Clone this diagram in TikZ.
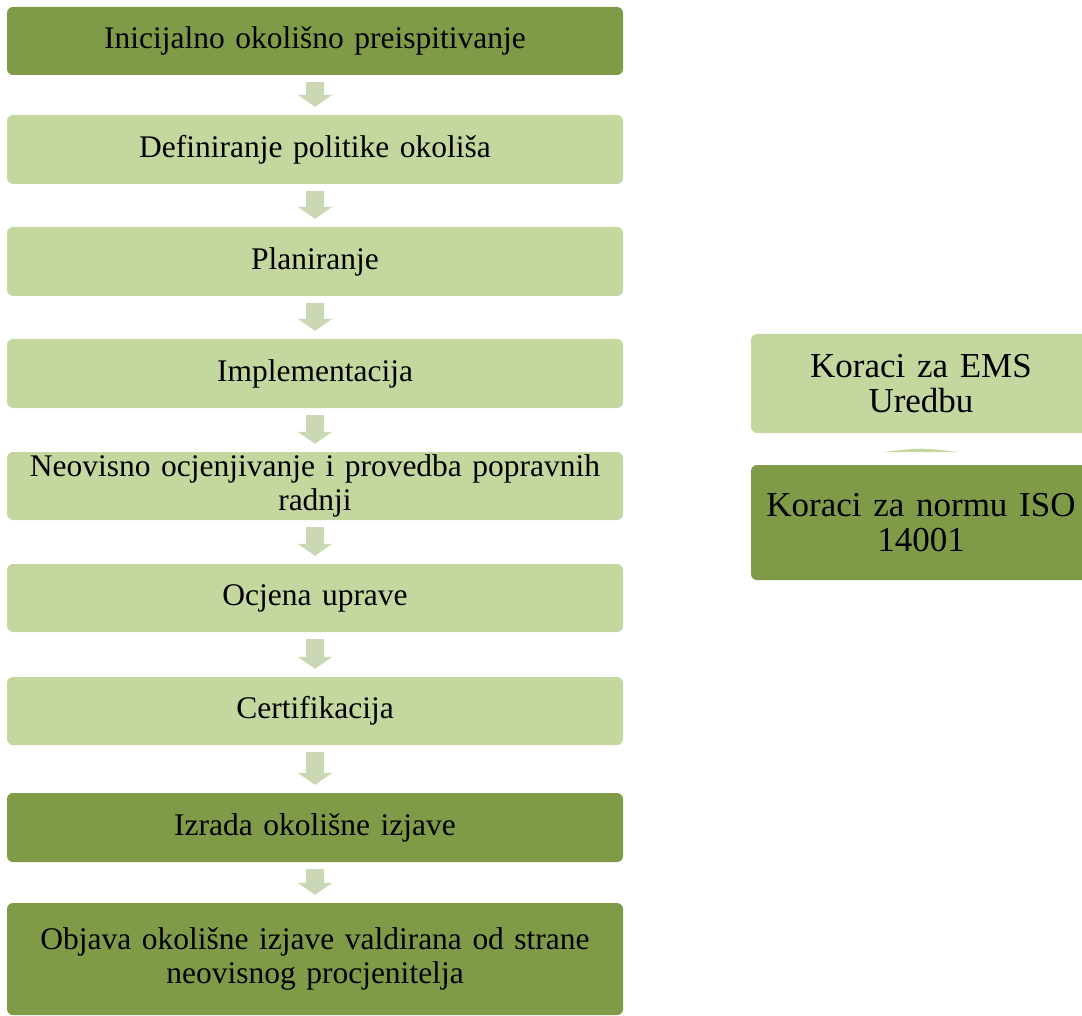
\documentclass[tikz,border=0pt]{standalone}
\usepackage{fontspec}
\setmainfont{Liberation Serif}
\usetikzlibrary{arrows.meta,calc}
\definecolor{dkg}{HTML}{7F9B48}
\definecolor{ltg}{HTML}{C4D79F}
\definecolor{arg}{HTML}{C9D8B2}
\tikzset{
  box/.style={rounded corners=6pt, minimum width=616pt, text width=596pt, align=center, inner sep=0pt, font=\fontsize{31.5}{34}\selectfont},
  dbox/.style={box, fill=dkg},
  lbox/.style={box, fill=ltg},
  rbox/.style={rounded corners=6pt, minimum width=340pt, text width=330pt, align=center, inner sep=0pt, font=\fontsize{35}{35}\selectfont},
  flow/.style={draw=arg, line width=18pt, -{Triangle[width=34pt,length=12pt]}, shorten <=7pt, shorten >=8pt},
}
\begin{document}
\begin{tikzpicture}[x=1pt,y=-1pt]
\useasboundingbox (0,0) rectangle (1082,1016);
\node[dbox, minimum height=68pt] (b1) at (315,41) {Inicijalno okolišno preispitivanje};
\node[lbox, minimum height=69pt] (b2) at (315,149.5) {Definiranje politike okoliša};
\node[lbox, minimum height=69pt] (b3) at (315,261.5) {Planiranje};
\node[lbox, minimum height=69pt] (b4) at (315,373.5) {Implementacija};
\node[lbox, minimum height=68pt] (b5) at (315,486) {Neovisno ocjenjivanje i provedba popravnih\\radnji};
\node[lbox, minimum height=68pt] (b6) at (315,598) {Ocjena uprave};
\node[lbox, minimum height=68pt] (b7) at (315,711) {Certifikacija};
\node[dbox, minimum height=69pt] (b8) at (315,827.5) {Izrada okolišne izjave};
\node[dbox, minimum height=112pt] (b9) at (315,959) {Objava okolišne izjave valdirana od strane\\neovisnog procjenitelja};
\foreach \a/\b in {b1/b2,b2/b3,b3/b4,b4/b5,b5/b6,b6/b7,b7/b8,b8/b9}
  \draw[flow] (\a.south) -- (\b.north);
\node[rbox, fill=ltg, minimum height=99pt] (r1) at (921,383.5) {Koraci za EMS\\Uredbu};
\node[rbox, fill=dkg, minimum height=115pt] (r2) at (921,522.5) {Koraci za normu ISO\\14001};
\coordinate (m1) at ($(r1.south)!0.55!(r2.north)$);
\fill[ltg] ($(m1)+(-38,1.5)$) .. controls ($(m1)+(0,-3)$) .. ($(m1)+(38,1.5)$) -- cycle;
\end{tikzpicture}
\end{document}
